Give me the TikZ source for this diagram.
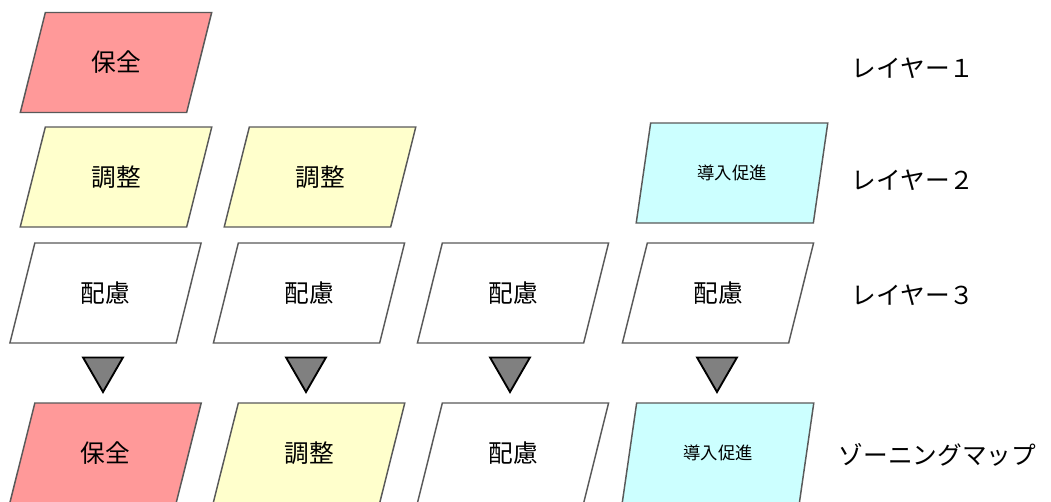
\documentclass[tikz,border=0pt]{standalone}
\usepackage{fontspec}
\newfontfamily\jp{Noto Sans CJK JP}
\usetikzlibrary{shapes.geometric}
\definecolor{hozen}{HTML}{FF9999}
\definecolor{chosei}{HTML}{FFFFCC}
\definecolor{donyu}{HTML}{CCFFFF}
\definecolor{waku}{HTML}{595959}
\tikzset{
  zone/.style={trapezium, trapezium left angle=69, trapezium right angle=111,
    trapezium stretches=true, minimum width=144pt, minimum height=75pt,
    inner sep=0pt, draw=waku, line width=1.1pt, font=\jp\fontsize{18.5}{18.5}\selectfont},
  small/.style={font=\jp\fontsize{13}{13}\selectfont},
  layer/.style={anchor=west, font=\jp\fontsize{18.5}{18.5}\selectfont},
  tri/.style={regular polygon, regular polygon sides=3, shape border rotate=180,
    minimum size=34.5pt, inner sep=0pt, draw=black, fill=gray, line width=1.4pt}
}
\begin{document}
\begin{tikzpicture}[x=0.75pt, y=-0.75pt]
\useasboundingbox (0,0) rectangle (1051,501);

% Layer 1
\node[zone, fill=hozen] (h1) at (116,62.5) {保全};

% Layer 2
\node[zone, fill=chosei] (c1) at (116,177) {調整};
\node[zone, fill=chosei] (c2) at (320,177) {調整};
\node[zone, fill=donyu, small] (d1) at (732,173) {導入促進};

% Layer 3
\node[zone, fill=white] (r1) at (105.5,293) {配慮};
\node[zone, fill=white] (r2) at (309,293) {配慮};
\node[zone, fill=white] (r3) at (513,293) {配慮};
\node[zone, fill=white] (r4) at (718,293) {配慮};

% Triangles
\node[tri] (t1) at (103,369) {};
\node[tri] (t2) at (306,369) {};
\node[tri] (t3) at (510,369) {};
\node[tri] (t4) at (717,369) {};

% Zoning map
\node[zone, fill=hozen] (z1) at (105.5,453) {保全};
\node[zone, fill=chosei] (z2) at (309,453) {調整};
\node[zone, fill=white] (z3) at (513,453) {配慮};
\node[zone, fill=donyu, small] (z4) at (718,453) {導入促進};

% Labels
\node[layer] (l1) at (847,68) {レイヤー１};
\node[layer] (l2) at (847,180) {レイヤー２};
\node[layer] (l3) at (847,295) {レイヤー３};
\node[layer] (l4) at (834,455) {ゾーニングマップ};

\end{tikzpicture}
\end{document}
